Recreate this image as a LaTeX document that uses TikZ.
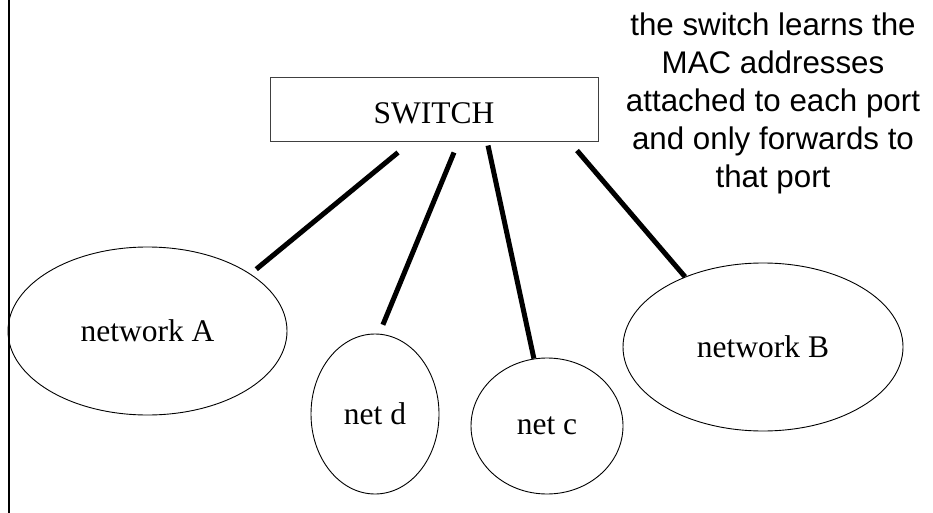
\documentclass[tikz,border=0pt]{standalone}
\usepackage{fontspec}
\setmainfont{Liberation Serif}
\newfontfamily\notefont{Liberation Sans}
\usetikzlibrary{shapes.geometric}

\begin{document}
\begin{tikzpicture}[x=1pt,y=-1pt,
  lan/.style={ellipse,draw,line width=0.9pt,inner sep=0pt,
    font=\fontsize{31.5}{36}\selectfont},
  switchbox/.style={draw=black!75,line width=1pt,inner sep=0pt,
    minimum width=328pt,minimum height=64pt,text height=26.7pt,text depth=0pt,
    font=\fontsize{31.5}{36}\selectfont},
  link/.style={line width=5pt},
  note/.style={font=\notefont\fontsize{31.3}{38}\selectfont,align=center,
    inner sep=0pt,anchor=north}
]
\useasboundingbox (0,0) rectangle (933,513);

% frame edge on the left
\draw[line width=2pt] (8.5,0) -- (8.5,513);

% the switch
\node[switchbox] (sw) at (434,110) {SWITCH};

% attached networks
\node[lan,minimum width=279pt,minimum height=168pt] (netA) at (147.5,331) {network A};
\node[lan,minimum width=128pt,minimum height=160pt] (netd) at (375,414) {net d};
\node[lan,minimum width=152pt,minimum height=136pt] (netc) at (547,426) {net c};
\node[lan,minimum width=280pt,minimum height=168pt] (netB) at (763,347) {network B};

% ports on the switch
\coordinate (pA) at ([shift={(-36,10)}]sw.south);
\coordinate (pd) at ([shift={(20,10)}]sw.south);
\coordinate (pc) at ([shift={(54,3)}]sw.south);
\coordinate (pB) at ([shift={(143,8)}]sw.south);

% links
\draw[link,shorten >=7.4pt] (pA) -- (netA.29);
\draw[link,shorten >=9.7pt] (pd) -- (netd.87);
\draw[link] (pc) -- (netc.101);
\draw[link] (pB) -- (netB.138);

% explanation
\node[note] (expl) at (773,12.6) {the switch learns the\\MAC addresses\\attached to each port\\and only forwards to\\that port};
\end{tikzpicture}
\end{document}
